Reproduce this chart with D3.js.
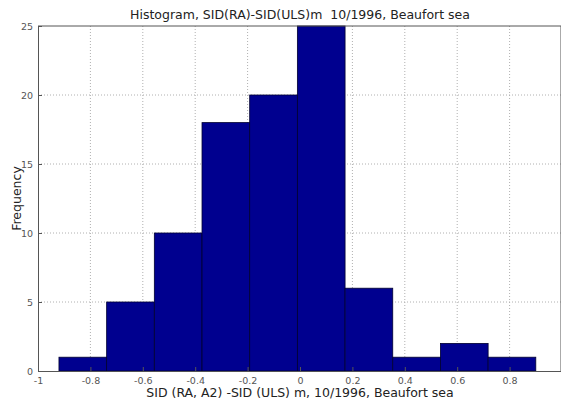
<!DOCTYPE html>
<html>
<head>
<meta charset="utf-8">
<script src="https://cdn.jsdelivr.net/npm/d3@7"></script>
<style>
body { margin: 0; background: #fff; }
svg { display: block; }
</style>
</head>
<body>
<svg id="chart" width="561" height="408"></svg>
<script>
// bin edges (10 bins, matlab hist style) and counts
var binEdges = [-0.92, -0.738, -0.556, -0.374, -0.192, -0.01, 0.172, 0.354, 0.536, 0.718, 0.9];
var counts = [1, 5, 10, 18, 20, 25, 6, 1, 2, 1];
var xTicks = [-1, -0.8, -0.6, -0.4, -0.2, 0, 0.2, 0.4, 0.6, 0.8];
var yTicks = [0, 5, 10, 15, 20, 25];

var titleText = "Histogram, SID(RA)-SID(ULS)m  10/1996, Beaufort sea";
var xLabel = "SID (RA, A2) -SID (ULS) m, 10/1996, Beaufort sea";
var yLabel = "Frequency";

var svg = d3.select("#chart");
var mLeft = 38, mRight = 562, mTop = 26, mBottom = 371;
var font = "DejaVu Sans, Verdana, sans-serif";

var x = d3.scaleLinear().domain([-1, 1]).range([mLeft, mRight]);
var y = d3.scaleLinear().domain([0, 25]).range([mBottom, mTop]);

// grid
svg.append("g").selectAll("line").data(xTicks.slice(1)).join("line")
  .attr("x1", d => x(d)).attr("x2", d => x(d))
  .attr("y1", mTop).attr("y2", mBottom)
  .attr("stroke", "#b0b0b0").attr("stroke-dasharray", "1,2");
svg.append("g").selectAll("line").data(yTicks.slice(1, -1)).join("line")
  .attr("x1", mLeft).attr("x2", mRight)
  .attr("y1", d => y(d)).attr("y2", d => y(d))
  .attr("stroke", "#b0b0b0").attr("stroke-dasharray", "1,2");

// bars
var bins = counts.map((c, i) => ({x0: binEdges[i], x1: binEdges[i + 1], n: c}));
svg.append("g").selectAll("rect").data(bins).join("rect")
  .attr("x", d => x(d.x0))
  .attr("width", d => x(d.x1) - x(d.x0))
  .attr("y", d => y(d.n))
  .attr("height", d => y(0) - y(d.n))
  .attr("fill", "#00008f")
  .attr("stroke", "#000030")
  .attr("stroke-width", 0.8);

// axes
var xAxis = svg.append("g").attr("transform", "translate(0," + mBottom + ")")
  .call(d3.axisBottom(x).tickValues(xTicks).tickSize(-4).tickPadding(6)
    .tickFormat(d => d === 0 ? "0" : String(d)));
var yAxis = svg.append("g").attr("transform", "translate(" + mLeft + ",0)")
  .call(d3.axisLeft(y).tickValues(yTicks).tickSize(-4).tickPadding(5));
[xAxis, yAxis].forEach(function(a) {
  a.select(".domain").attr("stroke", "#555");
  a.selectAll(".tick line").attr("stroke", "#555");
  a.selectAll("text").attr("fill", "#555").style("font-family", font).style("font-size", "9.5px");
});

// top and right box edges
svg.append("line").attr("x1", mLeft).attr("x2", mRight).attr("y1", mTop).attr("y2", mTop)
  .attr("stroke", "#555");
svg.append("line").attr("x1", mRight - 1).attr("x2", mRight - 1).attr("y1", mTop).attr("y2", mBottom)
  .attr("stroke", "#555");

// labels
svg.append("text").attr("x", (mLeft + mRight) / 2).attr("y", 19)
  .attr("text-anchor", "middle").style("font-family", font).style("font-size", "12.5px")
  .attr("fill", "#222").attr("xml:space", "preserve").style("white-space", "pre").text(titleText);
svg.append("text").attr("x", (mLeft + mRight) / 2).attr("y", 397)
  .attr("text-anchor", "middle").style("font-family", font).style("font-size", "12.5px")
  .attr("fill", "#222").text(xLabel);
svg.append("text").attr("transform", "translate(21," + (mTop + mBottom) / 2 + ") rotate(-90)")
  .attr("text-anchor", "middle").style("font-family", font).style("font-size", "12.5px")
  .attr("fill", "#222").text(yLabel);
</script>
</body>
</html>
